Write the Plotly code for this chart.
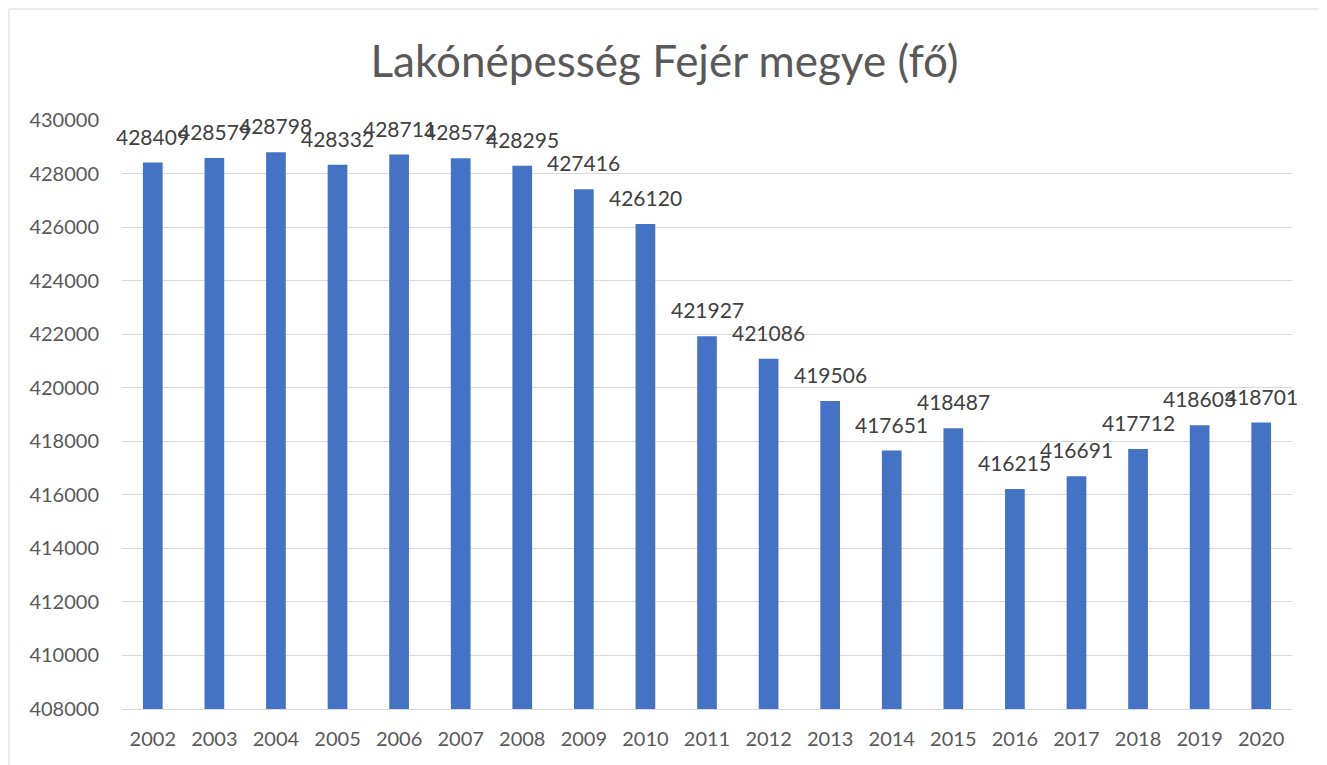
import plotly.graph_objects as go

years = [str(y) for y in range(2002, 2021)]
population = [428409, 428579, 428798, 428332, 428711, 428572, 428295, 427416, 426120,
              421927, 421086, 419506, 417651, 418487, 416215, 416691, 417712, 418603, 418701]
title_text = "Lakónépesség Fejér megye (fő)"
y_ticks = list(range(408000, 430001, 2000))

# page body has an 8px default margin; compensate in figure margins
OFF = 8
W, H = 1327, 765
ml, mr, mt, mb = 122 - OFF, 35 + OFF, 120 - OFF, 56 + OFF
pw, ph = W - ml - mr, H - mt - mb

fig = go.Figure()
fig.add_trace(go.Bar(
    x=years, y=population,
    marker=dict(color="#4472C4", line=dict(width=0)),
    hoverinfo="x+y",
))

# on a category axis the annotation position is the category index
for i, v in enumerate(population):
    fig.add_annotation(x=i, y=v, text=str(v), showarrow=False,
                       xanchor="center", yanchor="bottom", yshift=12,
                       font=dict(family="Lato", size=21, color="#404040"))

fig.update_layout(
    width=W, height=H,
    margin=dict(l=ml, r=mr, t=mt, b=mb),
    paper_bgcolor="white", plot_bgcolor="white",
    bargap=0.68,
    showlegend=False,
    title=dict(text=title_text, x=(367 + 962) / 2 / W - OFF / W, xanchor="center",
               y=1 - (62 - OFF) / H, yanchor="middle",
               font=dict(family="Lato", size=44, color="#595959")),
    font=dict(family="Lato", size=20, color="#595959"),
    xaxis=dict(type="category", categoryorder="array", categoryarray=years,
               range=[-0.5, len(years) - 0.5],
               showgrid=False, showline=True, linecolor="#d9d9d9", linewidth=1,
               ticks="", ticklabelstandoff=12, tickfont=dict(size=20, color="#595959")),
    yaxis=dict(range=[408000, 430000], tickvals=y_ticks, ticktext=[str(v) for v in y_ticks],
               showgrid=True, gridcolor="#d9d9d9", gridwidth=1, zeroline=False,
               ticks="", ticklabelstandoff=22, tickfont=dict(size=20, color="#595959")),
    shapes=[dict(type="rect", xref="paper", yref="paper",
                 x0=(9 - OFF - ml) / pw, x1=(1320 - OFF - ml) / pw,
                 y0=(H - mb - 780) / ph, y1=(H - mb - (9 - OFF)) / ph,
                 line=dict(color="#d9d9d9", width=1), fillcolor="rgba(0,0,0,0)", layer="below")],
)

fig.write_html("out.html")
